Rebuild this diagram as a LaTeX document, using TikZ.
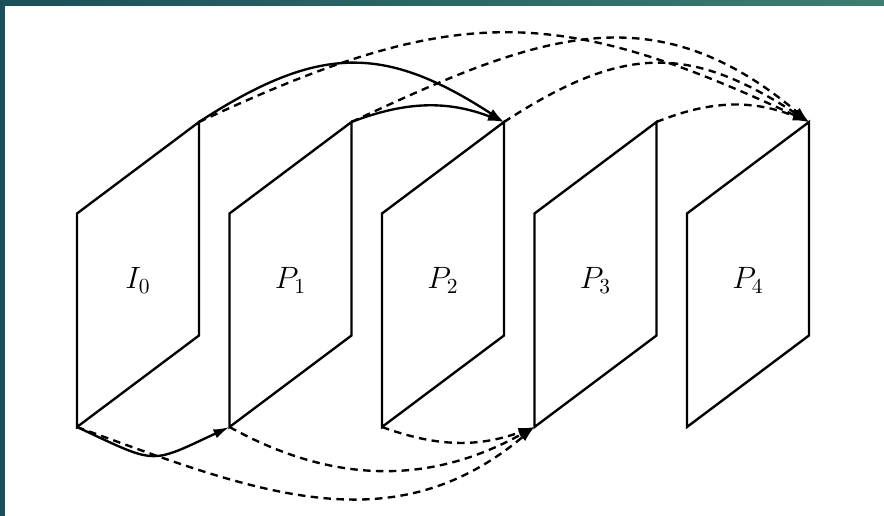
\documentclass[tikz,border=0pt]{standalone}
\usetikzlibrary{arrows.meta}
\definecolor{tealL}{RGB}{27,79,91}
\definecolor{tealR}{RGB}{62,125,112}
\begin{document}
\begin{tikzpicture}[
  plane/.style={draw, line width=1.1pt},
  pname/.style={font=\Large},
  arrow/.style={-{Latex[length=7.5pt,width=4.5pt]}, line width=1.1pt},
  dasharrow/.style={arrow, dash pattern=on 3.5pt off 2.5pt}
]
  \useasboundingbox (-1.262,-1.443) rectangle (13.23,7);
  % screen frame
  \shade[left color=tealL, right color=tealR] (-1.3,-1.5) rectangle (13.3,7.05);
  \fill[white] (-1.18,-1.5) rectangle (13.3,6.9);

  \draw[plane] (0,0) coordinate (i0b) -- (0,3.5) -- (2,5) coordinate (i0t) -- (2,1.5) -- cycle;
  \node[pname] (i0) at (1,2.4) {$I_0$};

  \draw[plane] (2.5,0) coordinate (p1b) -- (2.5,3.5) -- (4.5,5) coordinate (p1t) -- (4.5,1.5) -- cycle;
  \node[pname] (p1) at (3.5,2.4) {$P_1$};

  \draw[plane] (5,0) coordinate (p2b) -- (5,3.5) -- (7,5) coordinate (p2t) -- (7,1.5) -- cycle;
  \node[pname] (p2) at (6,2.4) {$P_2$};

  \draw[plane] (7.5,0) coordinate (p3b) -- (7.5,3.5) -- (9.5,5) coordinate (p3t) -- (9.5,1.5) -- cycle;
  \node[pname] (p3) at (8.5,2.4) {$P_3$};

  \draw[plane] (10,0) coordinate (p4b) -- (10,3.5) -- (12,5) coordinate (p4t) -- (12,1.5) -- cycle;
  \node[pname] (p4) at (11,2.4) {$P_4$};

  % references
  \draw[arrow] (i0t) to[out=33, in=147, looseness=1.2] (p2t);
  \draw[arrow] (p1t) to[bend left=21] (p2t);
  \draw[arrow] (i0b) to[out=-25, in=-155, looseness=1.5] (p1b);

  \draw[dasharrow] (i0t) to[out=25, in=155, looseness=1.18] (p4t);
  \draw[dasharrow] (p1t) to[out=25, in=140, looseness=1.15] (p4t);
  \draw[dasharrow] (p2t) to[out=33, in=147, looseness=1.2] (p4t);
  \draw[dasharrow] (p3t) to[bend left=22] (p4t);

  \draw[dasharrow] (i0b) to[out=-20, in=-140, looseness=1.05] (p3b);
  \draw[dasharrow] (p1b) to[bend right=29] (p3b);
  \draw[dasharrow] (p2b) to[bend right=20] (p3b);
\end{tikzpicture}
\end{document}
